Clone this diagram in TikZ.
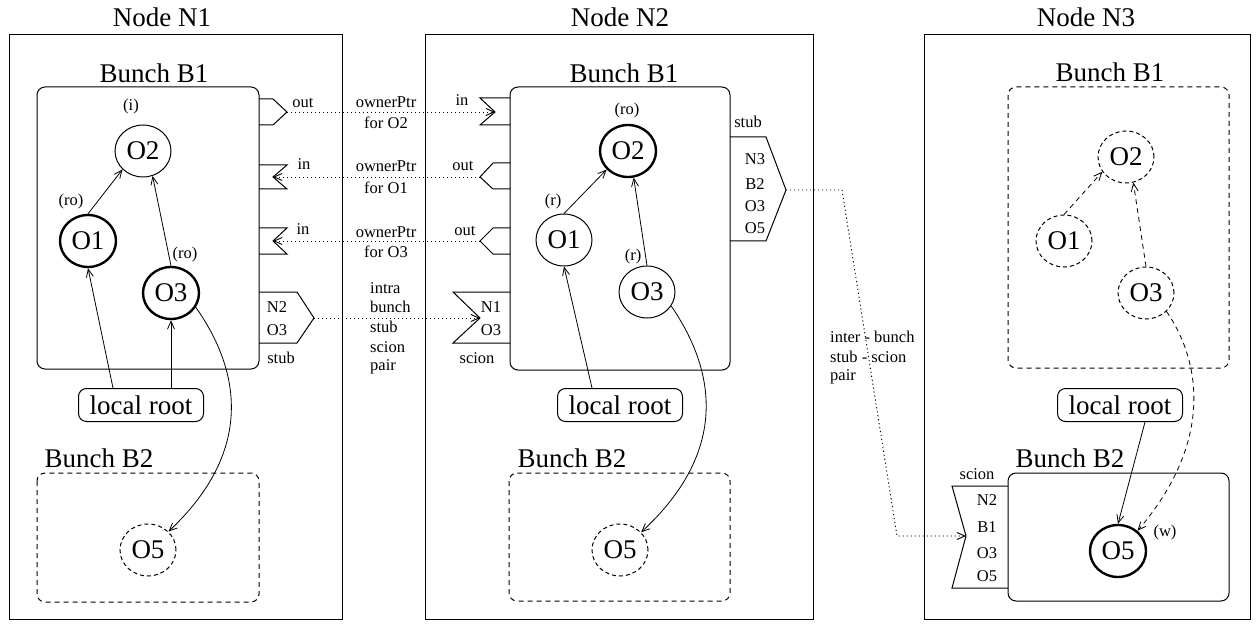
\documentclass[tikz,border=0pt]{standalone}
\usepackage{fontspec}
\setmainfont{Liberation Serif}
\usetikzlibrary{shapes.geometric,arrows.meta}
\begin{document}
\begin{tikzpicture}[x=1pt,y=-1pt,
  big/.style={font=\fontsize{27}{30}\selectfont, inner sep=0pt},
  small/.style={font=\fontsize{16.5}{18}\selectfont, inner sep=0pt},
  frame/.style={draw, line width=1pt},
  bunchbox/.style={draw, line width=1pt, rounded corners=8pt},
  dashbox/.style={draw, line width=1pt, rounded corners=8pt, dash pattern=on 5pt off 4pt},
  obj/.style={ellipse, draw, line width=1pt, minimum width=56pt, minimum height=52pt, inner sep=0pt, font=\fontsize{27}{30}\selectfont},
  thickobj/.style={obj, line width=2.4pt},
  dobj/.style={obj, dash pattern=on 4pt off 3pt},
  rootbox/.style={draw, line width=1pt, rounded corners=8pt, minimum width=125pt, minimum height=33pt, inner sep=0pt, font=\fontsize{27}{30}\selectfont},
  port/.style={draw, line width=1pt},
  tip/.style={-{Straight Barb[length=8pt,width=7pt]}},
  arr/.style={tip, line width=0.8pt},
  darr/.style={tip, line width=0.8pt, dash pattern=on 5pt off 4pt},
  dotarr/.style={tip, line width=0.9pt, dash pattern=on 1.2pt off 2.8pt}
]
\useasboundingbox (0,0) rectangle (1257,628);

% ---------------- outer frames
\draw[frame] (9,35) rectangle (342,619);
\draw[frame] (425,35) rectangle (813,619);
\draw[frame] (924,35) rectangle (1250,619);
\node[big] (t1) at (162,17) {Node N1};
\node[big] (t2) at (620,17) {Node N2};
\node[big] (t3) at (1086,17) {Node N3};

% ---------------- Node N1
\draw[bunchbox] (37,87) rectangle (259,369);
\node[big] (n1b1) at (154,73) {Bunch B1};
\draw[dashbox] (37,473) rectangle (259,602);
\node[big] (n1b2) at (99,458) {Bunch B2};

\node[obj] (a2) at (143,151) {O2};
\node[thickobj] (a1) at (88,241) {O1};
\node[thickobj] (a3) at (171,293) {O3};
\node[dobj] (a5) at (148,550) {O5};
\node[rootbox] (lr1) at (141,405) {local root};
\node[small] (la2) at (131,107) {(i)};
\node[small] (la1) at (71,202) {(ro)};
\node[small] (la3) at (185,255) {(ro)};

\draw[arr] ([xshift=-28pt]lr1.north) -- (a1.south);
\draw[arr] (lr1.north -| a3.south) -- (a3.south);
\draw[arr] (a1.north) -- (a2.222);
\draw[arr] (a3.north) -- (a2.291);
\draw[arr] (a3.330) .. controls (240,370) and (255,450) .. (a5.42);

% ports of N1
\draw[port] (259,99) -- (273,99) -- (287,112) -- (273,125) -- (259,125);
\coordinate (p1out) at (287,112);
\draw[port] (259,165) -- (287,165) -- (273,177) -- (287,189) -- (259,189);
\coordinate (p1inA) at (273,177);
\draw[port] (259,228) -- (287,228) -- (273,241) -- (287,254) -- (259,254);
\coordinate (p1inB) at (273,241);
\draw[port] (259,292) -- (297,292) -- (314,318) -- (297,343) -- (259,343);
\coordinate (p1stub) at (314,318);
\node[small] (l1out) at (303,103) {out};
\node[small] (l1inA) at (304,164) {in};
\node[small] (l1inB) at (303,229) {in};
\node[small] (l1n2) at (277,307) {N2};
\node[small] (l1o3) at (277,330) {O3};
\node[small] (l1stub) at (281,358) {stub};

% ---------------- middle labels
\node[small] (m1) at (386,102) {ownerPtr};
\node[small] (m2) at (386,123) {for O2};
\node[small] (m3) at (386,166) {ownerPtr};
\node[small] (m4) at (386,188) {for O1};
\node[small] (m5) at (386,232) {ownerPtr};
\node[small] (m6) at (386,252) {for O3};
\node[small, anchor=west] (m7) at (370,288) {intra};
\node[small, anchor=west] (m8) at (370,307) {bunch};
\node[small, anchor=west] (m9) at (370,327) {stub};
\node[small, anchor=west] (m10) at (370,347) {scion};
\node[small, anchor=west] (m11) at (370,367) {pair};

% ---------------- Node N2
\draw[bunchbox] (510,87) rectangle (730,370);
\node[big] (n2b1) at (624,73) {Bunch B1};
\draw[dashbox] (509,473) rectangle (730,601);
\node[big] (n2b2) at (572,458) {Bunch B2};

\node[thickobj] (b2) at (628,151) {O2};
\node[obj] (b1) at (564,240) {O1};
\node[obj] (b3) at (647,292) {O3};
\node[dobj] (b5) at (620,550) {O5};
\node[rootbox] (lr2) at (620,405) {local root};
\node[small] (lb2) at (627,111) {(ro)};
\node[small] (lb1) at (553,202) {(r)};
\node[small] (lb3) at (633,257) {(r)};

\draw[arr] ([xshift=-28pt]lr2.north) -- (b1.south);
\draw[arr] (b1.north) -- (b2.221);
\draw[arr] (b3.north) -- (b2.282);
\draw[arr] (b3.330) .. controls (715,370) and (730,450) .. (b5.40);

% ports of N2
\draw[port] (510,98) -- (480,98) -- (495,112) -- (480,125) -- (510,125);
\coordinate (p2in) at (495,112);
\draw[port] (510,163) -- (493,163) -- (480,177) -- (493,189) -- (510,189);
\coordinate (p2outA) at (480,177);
\draw[port] (510,228) -- (493,228) -- (480,241) -- (493,254) -- (510,254);
\coordinate (p2outB) at (480,241);
\draw[port] (510,292) -- (453,292) -- (480,318) -- (453,343) -- (510,343);
\coordinate (p2scion) at (480,318);
\draw[port] (730,137) -- (766,137) -- (786,190) -- (766,241) -- (730,241);
\coordinate (p2stub) at (786,190);
\node[small] (l2in) at (462,100) {in};
\node[small] (l2outA) at (463,166) {out};
\node[small] (l2outB) at (465,231) {out};
\node[small] (l2n1) at (491,307) {N1};
\node[small] (l2o3) at (491,330) {O3};
\node[small] (l2scion) at (477,358) {scion};
\node[small] (l2stub) at (748,122) {stub};
\node[small] (l2n3) at (755,159) {N3};
\node[small] (l2b2) at (755,184) {B2};
\node[small] (l2o3b) at (755,206) {O3};
\node[small] (l2o5) at (755,228) {O5};

% inter-bunch label
\node[small, anchor=west] (i1) at (830,337) {inter - bunch};
\node[small, anchor=west] (i2) at (830,357) {stub - scion};
\node[small, anchor=west] (i3) at (830,377) {pair};

% ---------------- Node N3
\draw[dashbox] (1008,87) rectangle (1229,368);
\node[big] (n3b1) at (1110,72) {Bunch B1};
\draw[bunchbox] (1008,473) rectangle (1229,601);
\node[big] (n3b2) at (1070,458) {Bunch B2};

\node[dobj] (c2) at (1126,157) {O2};
\node[dobj] (c1) at (1064,241) {O1};
\node[dobj] (c3) at (1146,293) {O3};
\node[thickobj] (c5) at (1118,551) {O5};
\node[rootbox] (lr3) at (1120,405) {local root};
\node[small] (lc5) at (1165,533) {(w)};

\draw[darr] (c1.north) -- (c2.212);
\draw[darr] (c3.north) -- (c2.286);
\draw[darr] (c3.318) .. controls (1200,360) and (1215,440) .. (c5.46);
\draw[arr] ([xshift=25pt]lr3.south) -- (c5.north);

% scion of N3
\draw[port] (1008,486) -- (952,486) -- (966,536) -- (952,588) -- (1008,588);
\coordinate (p3scion) at (966,536);
\node[small] (l3scion) at (977,474) {scion};
\node[small] (l3n2) at (987,500) {N2};
\node[small] (l3b1) at (987,527) {B1};
\node[small] (l3o3) at (987,553) {O3};
\node[small] (l3o5) at (987,576) {O5};

% ---------------- dotted connectors
\coordinate (k1) at (842,190);
\coordinate (k2) at (897,536);
\draw[dotarr] (p1out) -- (p2in);
\draw[dotarr] (p2outA) -- (p1inA);
\draw[dotarr] (p2outB) -- (p1inB);
\draw[dotarr] (p1stub) -- (p2scion);
\draw[dotarr] (p2stub) -- (k1) -- (k2) -- (p3scion);
\end{tikzpicture}
\end{document}
